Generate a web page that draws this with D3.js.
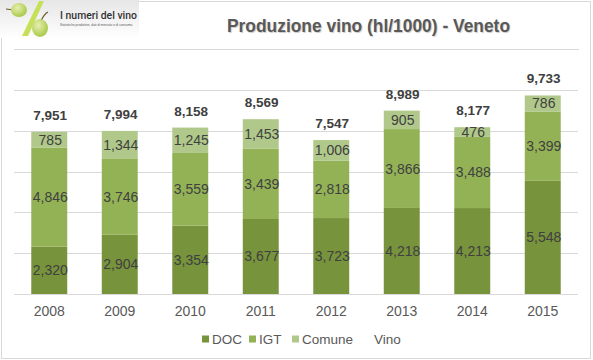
<!DOCTYPE html>
<html><head><meta charset="utf-8">
<script src="https://cdn.jsdelivr.net/npm/d3@7"></script>
<style>body{margin:0;background:#fff;} svg{display:block;}</style>
</head><body>
<script>
const years = ["2008","2009","2010","2011","2012","2013","2014","2015"];
const doc = [2320,2904,3354,3677,3723,4218,4213,5548];
const igt = [4846,3746,3559,3439,2818,3866,3488,3399];
const comune = [785,1344,1245,1453,1006,905,476,786];
const vino = [7951,7994,8158,8569,7547,8989,8177,9733];
const seriesNames = ["DOC","IGT","Comune","Vino"];
const yTicks = [0,2000,4000,6000,8000,10000];

(function(){
const W=593,H=360;
const colors={DOC:"#77933C",IGT:"#93B256",Comune:"#B0C98B"};
const svg=d3.select("body").append("svg").attr("width",W).attr("height",H);

// frame
svg.append("rect").attr("x",1.5).attr("y",1.5).attr("width",589).attr("height",357).attr("fill","#fff").attr("stroke","#d9d9d9").attr("stroke-width",1);

// logo
const defs=svg.append("defs");
const g1=defs.append("linearGradient").attr("id","lg").attr("x1",0).attr("y1",0).attr("x2",0).attr("y2",1);
g1.append("stop").attr("offset","0%").attr("stop-color","#e6e6e6");
g1.append("stop").attr("offset","100%").attr("stop-color","#ffffff");
const g2=defs.append("radialGradient").attr("id","gr").attr("cx","40%").attr("cy","35%").attr("r","65%");
g2.append("stop").attr("offset","0%").attr("stop-color","#e6f0b0");
g2.append("stop").attr("offset","100%").attr("stop-color","#a9c94a");
svg.append("rect").attr("x",0).attr("y",0).attr("width",139).attr("height",38).attr("fill","url(#lg)");
svg.append("path").attr("d","M6,9 L14,10").attr("stroke","#6b5a2e").attr("stroke-width",1.2);
svg.append("ellipse").attr("cx",19).attr("cy",10).attr("rx",8).attr("ry",7).attr("fill","url(#gr)");
svg.append("path").attr("d","M39,1 L44,1 L28,36 L22,36 Z").attr("fill","#c7e05a");
svg.append("path").attr("d","M41,21 Q44,14 48,12").attr("stroke","#6b5a2e").attr("stroke-width",1.2).attr("fill","none");
svg.append("ellipse").attr("cx",40).attr("cy",28).attr("rx",8).attr("ry",9).attr("fill","url(#gr)");
svg.append("text").attr("x",60).attr("y",19).attr("font-family","Roboto, Liberation Sans, sans-serif").attr("font-weight","500").attr("font-size",11).attr("fill","#333")
  .attr("textLength",77).attr("lengthAdjust","spacingAndGlyphs").text("I numeri del vino");
svg.append("text").attr("x",60).attr("y",25.5).attr("font-family","Liberation Sans, sans-serif").attr("font-size",3.2).attr("fill","#555").text("Statistiche produttive, dati di mercato e di consumo.");

// title
svg.append("text").attr("x",227).attr("y",32)
  .attr("font-family","'Liberation Sans Narrow', 'Arial Narrow', 'Liberation Sans', sans-serif")
  .attr("font-weight","bold").attr("font-size",19).attr("fill","#595959")
  .attr("textLength",283).attr("lengthAdjust","spacingAndGlyphs")
  .style("text-shadow","1px 1px 1px rgba(0,0,0,0.2)")
  .text("Produzione vino (hl/1000) - Veneto");
svg.append("line").attr("x1",14).attr("x2",579).attr("y1",49.5).attr("y2",49.5).attr("stroke","#d9d9d9");

const pL=14,pR=578,pT=90,pB=294;
const x=d3.scaleBand().domain(years).range([pL,pR]).paddingInner(0.49).paddingOuter(0.245);
const y=d3.scaleLinear().domain([0,10000]).range([pB,pT]);

// gridlines
svg.append("g").selectAll("line").data(yTicks).join("line")
  .attr("x1",pL).attr("x2",pR).attr("y1",d=>Math.round(y(d))+0.5).attr("y2",d=>Math.round(y(d))+0.5)
  .attr("stroke","#d9d9d9").attr("stroke-width",1);

const data=years.map((yr,i)=>({year:yr,DOC:doc[i],IGT:igt[i],Comune:comune[i],Vino:vino[i]}));
const stack=d3.stack().keys(["DOC","IGT","Comune"])(data);

const gs=svg.append("g").selectAll("g").data(stack).join("g").attr("fill",d=>colors[d.key]);
gs.selectAll("rect").data(d=>d).join("rect")
  .attr("x",d=>x(d.data.year)).attr("width",x.bandwidth())
  .attr("y",d=>y(d[1])).attr("height",d=>y(d[0])-y(d[1]));

// segment labels
const lf="'Liberation Sans', Arial, sans-serif";
stack.forEach(s=>{
  svg.append("g").selectAll("text").data(s).join("text")
    .attr("x",d=>x(d.data.year)+x.bandwidth()/2+1).attr("y",d=>(y(d[0])+y(d[1]))/2+5)
    .attr("text-anchor","middle").attr("font-family",lf).attr("font-size",14).attr("fill","#404040")
    .text(d=>d3.format(",")(d.data[s.key]));
});
// totals
svg.append("g").selectAll("text").data(data).join("text")
  .attr("x",d=>x(d.year)+x.bandwidth()/2+1).attr("y",d=>y(d.DOC+d.IGT+d.Comune)-12)
  .attr("text-anchor","middle").attr("font-family",lf).attr("font-weight","bold").attr("font-size",13.5).attr("fill","#404040")
  .text(d=>d3.format(",")(d.Vino));

// x axis labels
const xa=svg.append("g").attr("transform",`translate(0,${pB})`).call(d3.axisBottom(x).tickSize(0).tickPadding(10));
xa.select(".domain").remove();
xa.selectAll("text").attr("font-family",lf).attr("font-size",14).attr("fill","#595959").attr("dy","0.85em");

// legend
const leg=[{k:"DOC",x:202},{k:"IGT",x:249},{k:"Comune",x:292},{k:"Vino",x:364}];
const lg=svg.append("g").selectAll("g").data(leg).join("g").attr("transform",d=>`translate(${d.x},335.5)`);
lg.append("rect").attr("width",7).attr("height",7).attr("fill",d=>colors[d.k]||"none");
lg.append("text").attr("x",10).attr("y",8).attr("font-family",lf).attr("font-size",13.5).attr("fill","#595959").text(d=>d.k);
})();
</script>
</body></html>
